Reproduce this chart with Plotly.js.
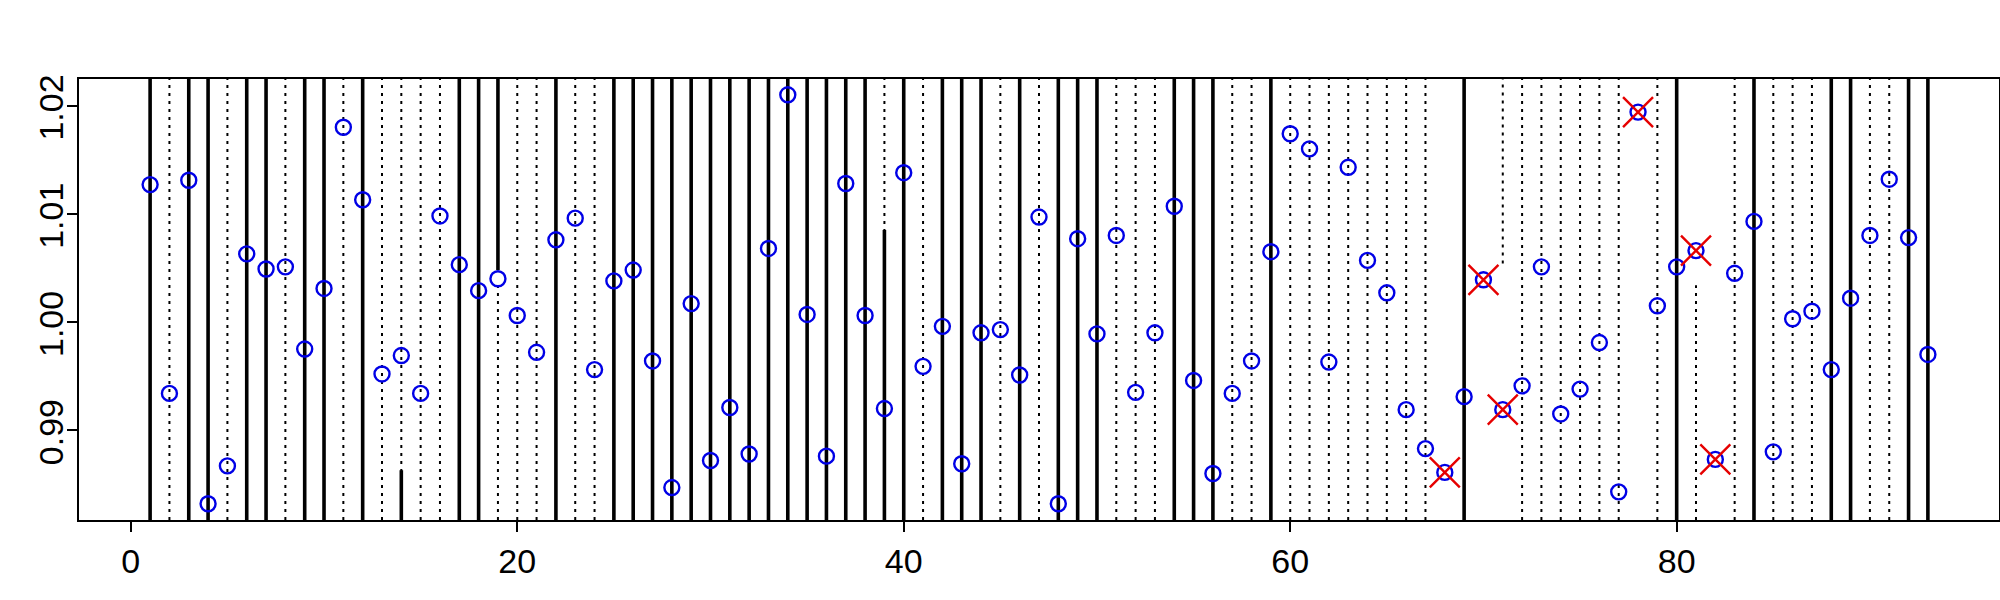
<!DOCTYPE html>
<html>
<head>
<meta charset="utf-8">
<script src="https://cdn.plot.ly/plotly-3.0.1.min.js"></script>
<style>html,body{margin:0;padding:0;background:#fff;}#chart{width:2000px;height:600px;}</style>
</head>
<body>
<div id="chart"></div>
<script>
// index of each observation
const xIndex = [1,2,3,4,5,6,7,8,9,10,11,12,13,14,15,16,17,18,19,20,21,22,23,24,25,26,27,28,29,30,31,32,33,34,35,36,37,38,39,40,41,42,43,44,45,46,47,48,49,50,51,52,53,54,55,56,57,58,59,60,61,62,63,64,65,66,67,68,69,70,71,72,73,74,75,76,77,78,79,80,81,82,83,84,85,86,87,88,89,90,91,92,93];
// observed values (blue circles)
const values = [1.0127,0.9934,1.0131,0.9832,0.9867,1.0063,1.0049,1.0051,0.9975,1.0031,
  1.0180,1.0113,0.9952,0.9969,0.9934,1.0098,1.0053,1.0029,1.0040,1.0006,
  0.9972,1.0076,1.0096,0.9956,1.0038,1.0048,0.9964,0.9847,1.0017,0.9872,
  0.9921,0.9878,1.0068,1.0210,1.0007,0.9876,1.0128,1.0006,0.9920,1.0138,
  0.9959,0.9996,0.9869,0.9990,0.9993,0.9951,1.0097,0.9832,1.0077,0.9989,
  1.0080,0.9935,0.9990,1.0107,0.9946,0.9860,0.9934,0.9964,1.0065,1.0174,
  1.0160,0.9963,1.0143,1.0057,1.0027,0.9919,0.9883,0.9861,0.9931,1.0039,
  0.9919,0.9941,1.0051,0.9915,0.9938,0.9981,0.9843,1.0194,1.0015,1.0051,
  1.0066,0.9873,1.0045,1.0093,0.9880,1.0003,1.0010,0.9956,1.0022,1.0080,
  1.0132,1.0078,0.9970];
// flagged observations (red crosses)
const flaggedX = [68,70,71,78,81,82];
// vertical line type for each index: S = solid, D = dotted, P = partial segments only, N = none
const lineType = ['S','D','S','S','D','S','S','D','S','S',
  'D','S','D','D','D','D','S','S','P','D',
  'D','S','D','D','S','S','S','S','S','S',
  'S','S','S','S','S','S','S','S','P','S',
  'D','S','S','S','D','S','D','S','S','S',
  'D','D','D','S','S','S','D','D','S','D',
  'D','D','D','D','D','D','D','N','S','N',
  'P','D','D','D','D','D','D','N','D','S',
  'P','N','D','S','D','D','D','S','S','D',
  'D','S','S'];
// partial segments: x, lower y, upper y (null = axis edge), style
const segX     = [14, 19, 19, 39, 39, 71, 81];
const segLow   = [null, 1.0048, null, null, null, 1.0054, null];
const segHigh  = [0.9863, null, 1.0034, 1.0085, null, null, 1.0034];
const segStyle = ['S','S','D','S','D','D','D'];

const xTicks = [0,20,40,60,80];
const yTicks = [0.99,1.00,1.01,1.02];
const yTickText = ['0.99','1.00','1.01','1.02'];

const yr = [0.98170, 1.02246];
const xr = [-2.68, 96.68];

function buildLines(style){
  const xs=[], ys=[];
  xIndex.forEach((x,i)=>{
    if(lineType[i]===style){ xs.push(x,x,null); ys.push(yr[0],yr[1],null); }
  });
  segX.forEach((x,i)=>{
    if(segStyle[i]===style){
      xs.push(x,x,null);
      ys.push(segLow[i]===null?yr[0]:segLow[i], segHigh[i]===null?yr[1]:segHigh[i], null);
    }
  });
  return {xs,ys};
}
const sol = buildLines('S');
const dot = buildLines('D');
const flaggedY = flaggedX.map(x => values[xIndex.indexOf(x)]);

const traces = [
  {type:'scatter', mode:'lines', x:dot.xs, y:dot.ys, line:{color:'black', width:2, dash:'3px,5px'}, hoverinfo:'skip', connectgaps:false},
  {type:'scatter', mode:'lines', x:sol.xs, y:sol.ys, line:{color:'black', width:3.6}, hoverinfo:'skip', connectgaps:false},
  {type:'scatter', mode:'markers', x:xIndex, y:values, marker:{symbol:'circle-open', size:15, color:'#0000e6', line:{width:2.4, color:'#0000e6'}}},
  {type:'scatter', mode:'markers', x:flaggedX, y:flaggedY, marker:{symbol:'x-thin-open', size:30, color:'#e60000', line:{width:2.4, color:'#e60000'}}}
];

// y tick labels as rotated text placed next to the ticks
const yLabelAnnotations = yTicks.map((v,i)=>({
  xref:'paper', yref:'y', x:0, y:v, text:yTickText[i], showarrow:false,
  textangle:-90, xanchor:'center', yanchor:'middle', xshift:-28, yshift:-2,
  font:{size:34, color:'black'}
}));

const layout = {
  width:2000, height:600,
  margin:{l:79, r:1, t:79, b:80, pad:0},
  paper_bgcolor:'white', plot_bgcolor:'white',
  showlegend:false, hovermode:false,
  font:{family:'"Liberation Sans", Arial, sans-serif', size:34, color:'black'},
  xaxis:{range:xr, showgrid:false, zeroline:false, showline:true, mirror:true, linecolor:'black', linewidth:2,
    ticks:'outside', ticklen:10, tickwidth:2, tickcolor:'black', tickvals:xTicks, ticktext:xTicks.map(String),
    tickfont:{size:34}},
  yaxis:{range:yr, showgrid:false, zeroline:false, showline:true, mirror:true, linecolor:'black', linewidth:2,
    ticks:'outside', ticklen:10, tickwidth:2, tickcolor:'black', tickvals:yTicks, showticklabels:false},
  annotations: yLabelAnnotations
};

Plotly.newPlot('chart', traces, layout, {staticPlot:true, displayModeBar:false});
</script>
</body>
</html>
